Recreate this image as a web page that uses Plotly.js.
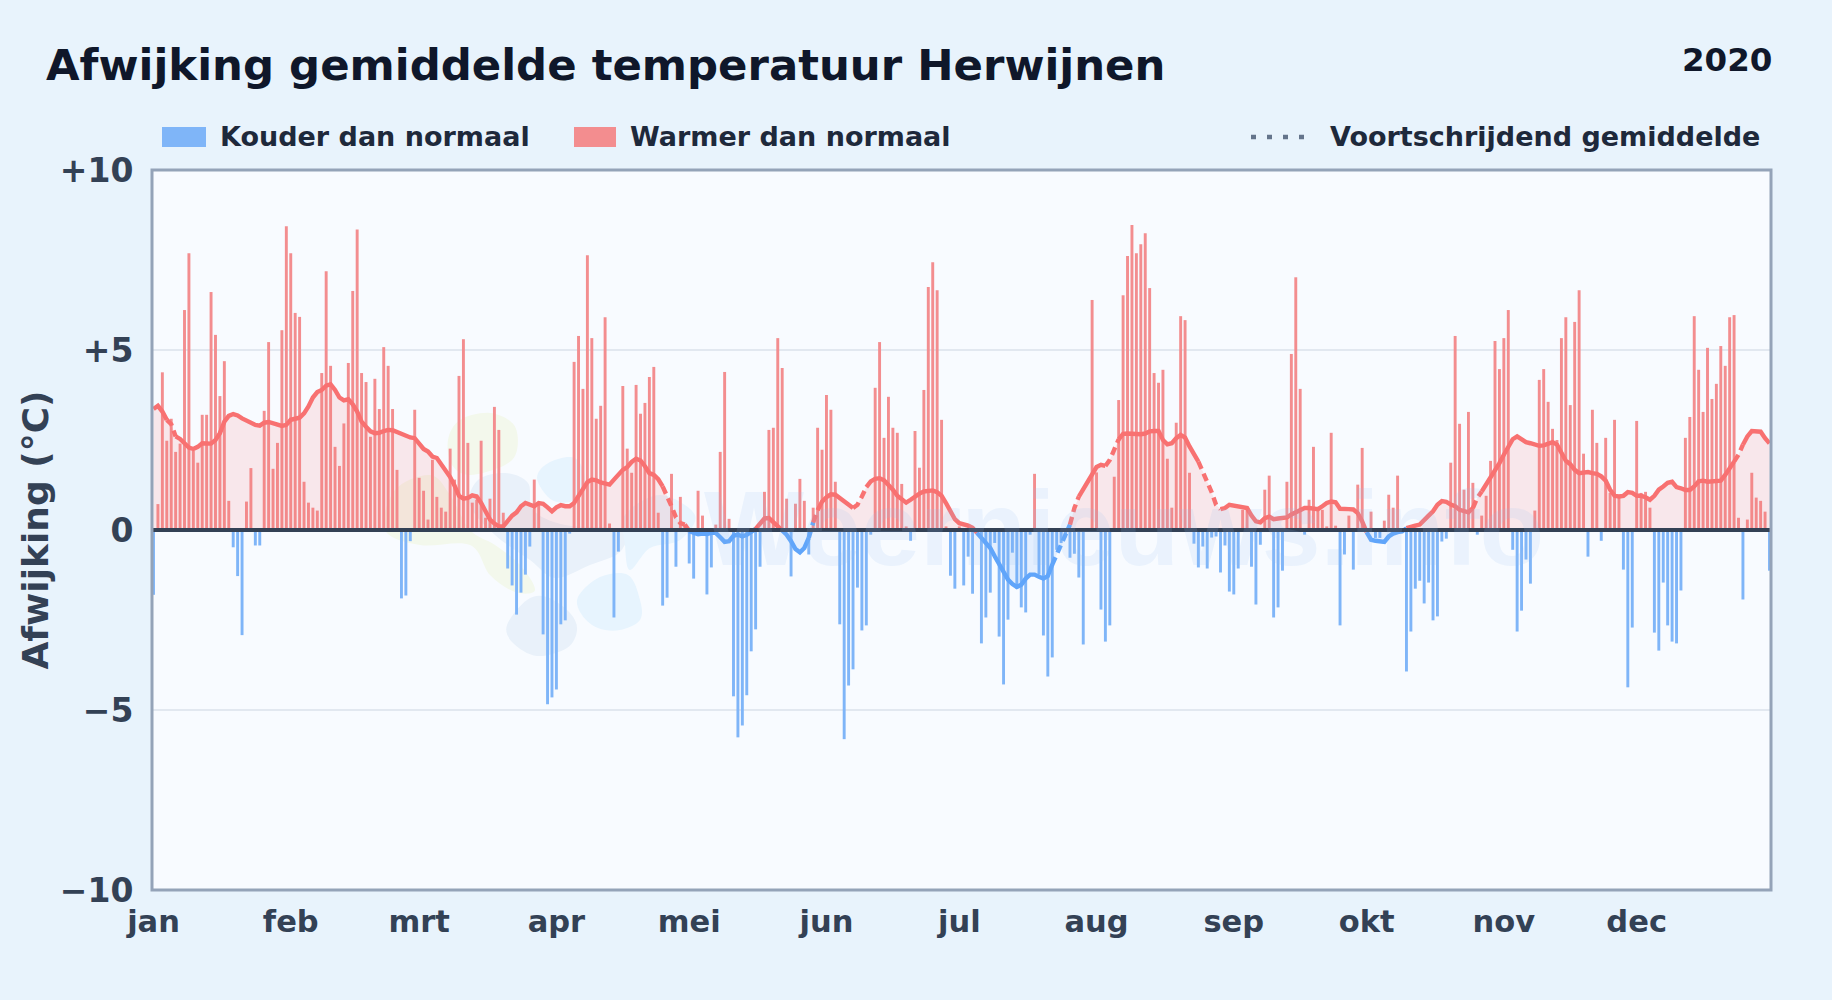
<!DOCTYPE html>
<html><head><meta charset="utf-8">
<script src="https://cdn.plot.ly/plotly-3.0.1.min.js"></script>
<style>html,body{margin:0;padding:0;background:#e8f3fc}#c{width:1832px;height:1000px}</style>
</head><body><div id="c"></div>
<script>
const chartTitle = "Afwijking gemiddelde temperatuur Herwijnen";
const yearLabel = "2020";
const yTitle = "Afwijking (°C)";
const monthLabels = ["jan","feb","mrt","apr","mei","jun","jul","aug","sep","okt","nov","dec"];
const monthStarts = [0,31,60,91,121,152,182,213,244,274,305,335];
const yTickVals = [10,5,0,-5,-10];
const yTickText = ["+10","+5","0","−5","−10"];
const legendCold = "Kouder dan normaal";
const legendWarm = "Warmer dan normaal";
const legendMean = "Voortschrijdend gemiddelde";
const watermark = "Weernieuws.info";

// daily deviation, one value per day of 2020
const afwijking = [
-1.8,.72,4.38,2.48,3.09,2.17,2.4,6.11,7.69,2.2,
1.87,3.2,3.2,6.61,5.42,3.72,4.69,.81,-.48,-1.28,
-2.92,.79,1.72,-.43,-.43,3.31,5.22,1.7,2.42,5.55,
8.44,7.69,6.03,5.92,1.34,.76,.62,.54,4.36,7.19,
4.56,2.31,1.78,2.96,4.64,6.64,8.35,4.36,4.11,2.59,
4.2,3.36,5.08,4.56,3.36,1.67,-1.9,-1.82,-.31,3.34,
1.45,1.09,.29,1.95,.92,.62,.51,2.26,1.4,4.28,
5.3,2.42,.76,.84,2.48,.34,.87,3.42,2.78,.48,
-1.07,-1.54,-2.35,-1.74,-1.24,-.46,1.4,.7,-2.9,-4.84,
-4.65,-4.43,-2.62,-2.51,-.1,4.67,5.39,3.92,7.63,5.33,
3.09,3.45,5.91,.18,-2.43,-.6,4.0,2.26,1.59,4.03,
3.23,3.53,4.25,4.53,.48,-2.1,-1.88,1.56,-1.02,.92,
.1,-.93,-1.35,1.09,.4,-1.79,-1.04,.15,2.17,4.39,
.31,-4.62,-5.76,-5.43,-4.59,-3.37,-2.76,-1.02,1.06,2.78,
2.84,5.33,4.5,.87,-1.29,.73,1.42,.81,-.68,.62,
2.84,2.23,3.75,3.34,1.34,-2.62,-5.81,-4.32,-3.87,-1.6,
-2.79,-2.65,-.13,3.95,5.22,2.56,3.7,2.84,2.7,1.28,
.1,-.3,2.75,1.73,3.89,6.75,7.44,6.66,3.06,.1,
-1.27,-1.63,.1,-1.54,-.74,-1.77,-.1,-3.15,-2.43,-1.74,
-.36,-2.96,-4.29,-2.49,-.63,-1.63,-2.15,-2.29,-.13,1.56,
-1.24,-2.93,-4.07,-3.54,-.55,-.36,-.2,-.77,-.66,-1.32,
-3.18,.05,6.39,1.6,-2.21,-3.1,-2.65,1.48,3.61,6.52,
7.61,8.47,7.69,7.94,8.24,6.72,4.36,4.09,4.45,1.98,
.62,2.98,5.94,5.83,1.59,-.38,-1.04,-.46,-1.07,-.21,
-.18,-1.18,-.43,-1.71,-1.79,-1.07,.56,.56,-1.02,-2.07,
-.41,1.12,1.51,-2.43,-2.15,-1.13,1.34,4.89,7.02,3.92,
-.13,.84,2.31,.62,.56,.1,2.7,.12,-2.65,-.68,
.4,-1.1,1.26,2.28,.05,.51,-.22,-.22,.26,.98,
.62,1.51,.05,-3.93,-2.82,-1.63,-1.41,-2.04,-1.46,-2.51,
-2.4,-.32,-.24,1.87,5.39,2.95,1.12,3.28,1.31,-.13,
.4,.95,1.92,5.25,4.47,5.33,6.11,-.55,-2.82,-2.24,
-.82,-1.49,.54,4.17,4.47,3.56,2.81,2.5,5.33,5.91,
3.47,5.78,6.66,2.12,-.74,3.34,2.42,-.3,2.56,1.03,
3.06,.93,-1.1,-4.37,-2.71,3.03,1.03,1.06,.62,-2.85,
-3.35,-1.46,-2.65,-3.1,-3.15,-1.68,2.56,3.14,5.94,4.45,
3.28,5.06,3.64,4.06,5.11,4.56,5.91,5.97,.34,-1.93,
.29,1.59,.9,.81,.51,-1.13];

// rolling mean, one value per day
const gemiddelde = [
3.36,3.45,3.29,3.06,2.94,2.6,2.53,2.41,2.29,2.25,
2.31,2.41,2.4,2.4,2.5,2.69,3.01,3.17,3.22,3.18,
3.1,3.03,2.98,2.92,2.9,2.98,3.0,2.96,2.94,2.89,
2.92,3.06,3.09,3.12,3.24,3.43,3.68,3.83,3.89,4.01,
4.05,3.89,3.68,3.6,3.63,3.49,3.29,3.01,2.87,2.74,
2.69,2.7,2.75,2.78,2.77,2.72,2.64,2.6,2.57,2.55,
2.4,2.25,2.18,2.04,2.0,1.84,1.67,1.47,1.23,.95,
.87,.89,.96,.93,.75,.52,.29,.18,.1,.1,
.24,.4,.49,.66,.75,.7,.66,.75,.73,.63,
.52,.63,.69,.66,.66,.75,.93,1.12,1.33,1.4,
1.38,1.32,1.3,1.26,1.4,1.55,1.67,1.75,1.89,1.98,
1.93,1.77,1.58,1.53,1.41,1.21,.95,.66,.35,.19,
.15,-.03,-.08,-.12,-.1,-.11,-.08,-.08,-.2,-.33,
-.31,-.16,-.13,-.18,-.13,-.06,.03,.19,.32,.33,
.21,.08,-.01,-.13,-.31,-.53,-.62,-.5,-.22,.21,
.55,.79,.91,.99,.98,.89,.79,.7,.61,.7,
.93,1.19,1.35,1.42,1.44,1.38,1.26,1.12,.95,.86,
.76,.84,.93,1.01,1.07,1.1,1.1,1.05,.95,.75,
.52,.3,.19,.17,.12,.06,-.08,-.22,-.36,-.5,
-.73,-.96,-1.19,-1.38,-1.5,-1.58,-1.52,-1.35,-1.24,-1.24,
-1.3,-1.35,-1.28,-.96,-.68,-.45,-.18,.15,.61,.93,
1.15,1.35,1.58,1.75,1.81,1.78,1.95,2.23,2.52,2.67,
2.68,2.67,2.67,2.66,2.68,2.74,2.75,2.75,2.5,2.38,
2.41,2.55,2.64,2.57,2.32,2.11,1.9,1.63,1.35,1.05,
.7,.58,.61,.7,.67,.64,.64,.61,.4,.24,
.21,.33,.37,.3,.32,.33,.35,.43,.5,.56,
.61,.61,.59,.58,.66,.75,.79,.77,.59,.57,
.58,.57,.47,.24,-.06,-.27,-.3,-.32,-.33,-.18,
-.1,-.06,-.04,.05,.1,.12,.15,.29,.4,.52,
.7,.8,.78,.71,.66,.56,.51,.49,.61,.89,
1.07,1.26,1.44,1.67,1.86,2.09,2.32,2.52,2.6,2.52,
2.44,2.41,2.37,2.34,2.35,2.41,2.44,2.37,2.13,1.92,
1.83,1.67,1.58,1.6,1.61,1.58,1.56,1.49,1.37,1.12,
.95,.93,.95,1.05,1.03,.95,.95,.91,.84,.95,
1.12,1.21,1.31,1.34,1.19,1.16,1.11,1.11,1.21,1.35,
1.37,1.34,1.34,1.35,1.37,1.53,1.72,1.9,2.09,2.37,
2.6,2.75,2.75,2.73,2.55,2.41];

// stretches of the mean line that are drawn dashed: [first day, last day]
const dashedDays = [[3,5],[115,120],[148,150],[158,161],[203,209],[215,218],[236,241],[298,300],[357,359]];

const days = afwijking.map((_,i)=>i);
const red = "#f87171", blue = "#60a5fa";
const isDashed = i => dashedDays.some(r => i>=r[0] && i<r[1]);

const traces = [];
// shaded areas under the mean
traces.push({x:days,y:gemiddelde.map(v=>Math.max(v,0)),type:"scatter",mode:"none",fill:"tozeroy",fillcolor:"rgba(248,113,113,0.14)",showlegend:false,hoverinfo:"skip"});
traces.push({x:days,y:gemiddelde.map(v=>Math.min(v,0)),type:"scatter",mode:"none",fill:"tozeroy",fillcolor:"rgba(96,165,250,0.13)",showlegend:false,hoverinfo:"skip"});
// bars
const coldDays = days.filter(i=>afwijking[i]<0), warmDays = days.filter(i=>afwijking[i]>=0);
traces.push({x:coldDays,y:coldDays.map(i=>afwijking[i]),type:"bar",width:0.66,marker:{color:"#7fb5f8",line:{width:0}},showlegend:false,hoverinfo:"skip"});
traces.push({x:warmDays,y:warmDays.map(i=>afwijking[i]),type:"bar",width:0.66,marker:{color:"#f38d8f",line:{width:0}},showlegend:false,hoverinfo:"skip"});
// mean line split by sign and dash state
let start = 0;
for (let i=1;i<=days.length;i++){
  const same = i<days.length && (gemiddelde[i]>=0)===(gemiddelde[start]>=0) && isDashed(i)===isDashed(start);
  if(!same){
    const end = Math.min(i,days.length-1);
    traces.push({x:days.slice(start,end+1),y:gemiddelde.slice(start,end+1),type:"scatter",mode:"lines",
      line:{color:gemiddelde[start]>=0?red:blue,width:4.4,dash:isDashed(start)?"8px,5px":"solid",shape:"linear"},
      showlegend:false,hoverinfo:"skip"});
    start = i;
  }
}

const PL=152,PR=1771,PT=170,PB=890;
const px = v => (v-PL)/(PR-PL), py = v => 1-(v-PT)/(PB-PT);
const font = "'DejaVu Sans', sans-serif";
function blob(pts,color){
  // closed smooth outline given in page pixels
  const p = pts.map(q=>[px(q[0]),py(q[1])]);
  let d = "M"+p[0][0]+","+p[0][1];
  for(let i=0;i<p.length;i++){
    const a=p[i],b=p[(i+1)%p.length],c=p[(i+2)%p.length],z=p[(i-1+p.length)%p.length];
    const c1=[a[0]+(b[0]-z[0])/6,a[1]+(b[1]-z[1])/6],c2=[b[0]-(c[0]-a[0])/6,b[1]-(c[1]-a[1])/6];
    d+=" C"+c1[0]+","+c1[1]+" "+c2[0]+","+c2[1]+" "+b[0]+","+b[1];
  }
  return {type:"path",xref:"paper",yref:"paper",path:d+" Z",fillcolor:color,line:{width:0},layer:"below"};
}
const green="#f3f8ec", slate="#e9f1fa", sky="#e7f4fe";
const shapes = [
  blob([[448,440],[460,420],[490,413],[514,425],[517,450],[505,465],[470,475],[452,465]],green),
  blob([[385,530],[395,490],[430,475],[450,495],[470,530],[495,545],[520,565],[535,590],[515,592],[490,575],[470,545],[420,545]],green),
  blob([[470,505],[478,480],[505,473],[528,483],[533,510],[565,525],[622,530],[620,552],[590,565],[555,578],[530,560],[495,535]],slate),
  blob([[507,625],[527,600],[547,597],[570,613],[577,630],[567,648],[537,656],[513,643]],slate),
  blob([[537,478],[550,462],[575,458],[585,480],[575,500],[552,500]],sky),
  blob([[578,597],[600,577],[628,575],[640,600],[640,620],[620,630],[598,628],[582,615]],sky),
  blob([[625,515],[660,495],[695,515],[680,540],[650,548],[630,570],[625,545]],sky),
  // legend swatches
  {type:"rect",xref:"paper",yref:"paper",x0:px(162),x1:px(206),y0:py(127),y1:py(147),fillcolor:"#7fb5f8",line:{width:0}},
  {type:"rect",xref:"paper",yref:"paper",x0:px(574),x1:px(616),y0:py(127),y1:py(147),fillcolor:"#f38d8f",line:{width:0}},
  {type:"line",xref:"paper",yref:"paper",x0:px(1251),x1:px(1309),y0:py(137),y1:py(137),line:{color:"#64748b",width:4.5,dash:"5px,11px"}},
  // zero line
  {type:"line",xref:"paper",yref:"y",x0:0,x1:1,y0:0,y1:0,line:{color:"#334155",width:4}},
  // frame
  {type:"rect",xref:"paper",yref:"paper",x0:0,x1:1,y0:0,y1:1,line:{color:"#94a3b8",width:3},layer:"above"}
];
function label(text,x,y,size,color,anchor,fam){
  return {text,xref:"paper",yref:"paper",x:px(x),y:py(y),xanchor:anchor||"left",yanchor:"middle",showarrow:false,
    font:{family:fam||font,size,color,weight:700}};
}
const annotations = [
  label(watermark,1124,528,106,"rgba(147,190,240,0.14)","center","'Liberation Sans', sans-serif"),
  label(yearLabel,1774,60,32.5,"#0f172a","right"),
  label(legendCold,218,137,27,"#1e293b"),
  label(legendWarm,628,137,27,"#1e293b"),
  label(legendMean,1328,137,27,"#1e293b")
];

const layout = {
  width:1832,height:1000,
  margin:{l:PL,r:1832-PR,t:PT,b:1000-PB,pad:0},
  paper_bgcolor:"#e8f3fc",plot_bgcolor:"#f8fbff",
  title:{text:chartTitle,x:46/1832,xanchor:"left",xref:"container",y:1-65/1000,yanchor:"middle",yref:"container",
    font:{family:font,size:43.4,color:"#0f172a",weight:700}},
  barmode:"overlay",showlegend:false,hovermode:false,
  xaxis:{range:[-0.34,365.34],tickmode:"array",tickvals:monthStarts,ticktext:monthLabels,showgrid:false,zeroline:false,
    showline:false,ticks:"outside",ticklen:4,tickwidth:1,tickcolor:"rgba(0,0,0,0)",
    tickfont:{family:font,size:30.5,color:"#334155",weight:700}},
  yaxis:{range:[-10,10],tickmode:"array",tickvals:yTickVals,ticktext:yTickText,showgrid:true,gridcolor:"#e2e8f0",gridwidth:2,zeroline:false,
    showline:false,ticks:"outside",ticklen:11,tickwidth:1,tickcolor:"rgba(0,0,0,0)",
    tickfont:{family:font,size:33,color:"#334155",weight:700},
    title:{text:yTitle,standoff:0,font:{family:font,size:36,color:"#334155",weight:700}}},
  shapes,annotations
};
Plotly.newPlot("c",traces,layout,{displayModeBar:false,staticPlot:true});
</script></body></html>
